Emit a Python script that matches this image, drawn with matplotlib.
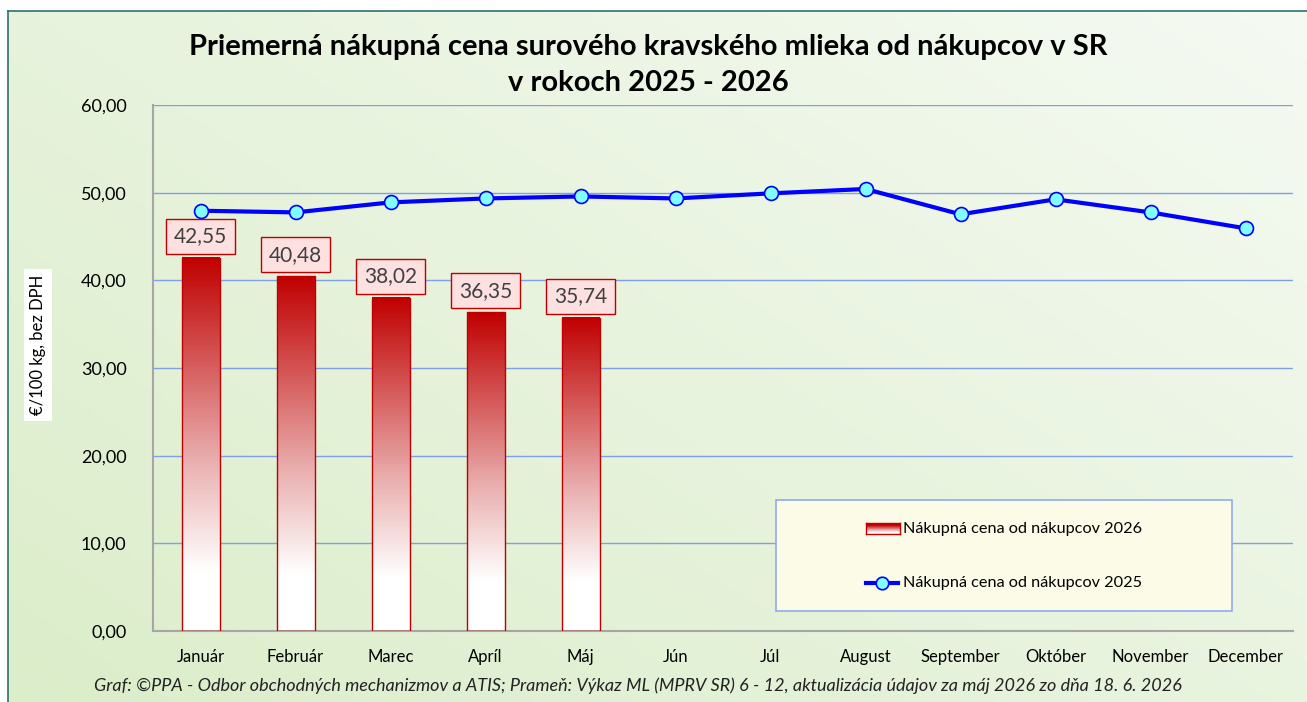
import numpy as np
import matplotlib
matplotlib.use("Agg")
import matplotlib.pyplot as plt
from matplotlib.patches import Rectangle
from matplotlib.lines import Line2D
from matplotlib.colors import LinearSegmentedColormap

months = ["Január", "Február", "Marec", "Apríl", "Máj", "Jún", "Júl", "August",
          "September", "Október", "November", "December"]
price_2026 = [42.55, 40.48, 38.02, 36.35, 35.74]
price_2025 = [47.94, 47.75, 48.89, 49.34, 49.57, 49.34, 49.92, 50.42, 47.53, 49.24, 47.75, 45.93]
yticks = [0, 10, 20, 30, 40, 50, 60]

title = "Priemerná nákupná cena surového kravského mlieka od nákupcov v SR\nv rokoch 2025 - 2026"
ylabel = "€/100 kg, bez DPH"
legend_2026 = "Nákupná cena od nákupcov 2026"
legend_2025 = "Nákupná cena od nákupcov 2025"
footer = ("Graf: ©PPA - Odbor obchodných mechanizmov a ATIS; Prameň: Výkaz ML (MPRV SR) 6 - 12, "
          "aktualizácia údajov za máj 2026 zo dňa 18. 6. 2026")

plt.rcParams['font.family'] = ['Lato', 'DejaVu Sans']

W, H = 1307, 702
fig = plt.figure(figsize=(W / 100, H / 100), dpi=100)
fig.patch.set_facecolor("white")

# chart area background gradient
bg = fig.add_axes([8 / W, 0, 1 - 8 / W, 1 - 11 / H], zorder=-10)
gx, gy = np.meshgrid(np.linspace(0, 1, 200), np.linspace(0, 1, 200))
t = np.clip(0.55 * gx + 0.45 * (1 - gy), 0, 1)
c0 = np.array([0.86, 0.93, 0.79])
c1 = np.array([0.96, 0.98, 0.95])
img = c0[None, None, :] * (1 - t[..., None]) + c1[None, None, :] * t[..., None]
bg.imshow(img, extent=(0, 1, 0, 1), aspect="auto", origin="upper")
bg.set_xlim(0, 1); bg.set_ylim(0, 1)
bg.set_xticks([]); bg.set_yticks([])
for s in ["right", "bottom"]:
    bg.spines[s].set_visible(False)
for s in ["left", "top"]:
    bg.spines[s].set_color("#2f6f6f")
    bg.spines[s].set_linewidth(1.2)

# main axes
x0, x1, ytop, ybot = 153, 1293, 105, 631
ax = fig.add_axes([x0 / W, 1 - ybot / H, (x1 - x0) / W, (ybot - ytop) / H])
ax.patch.set_alpha(0)
x = np.arange(len(months))
ax.set_xlim(-0.5, len(months) - 0.5)
ax.set_ylim(0, 60)
ax.set_yticks(yticks)
ax.set_yticklabels([f"{v:.2f}".replace(".", ",") for v in yticks], fontsize=13)
ax.set_xticks(x)
ax.set_xticklabels(months, fontsize=12)
ax.tick_params(length=0)
ax.tick_params(axis="y", pad=19)
ax.tick_params(axis="x", pad=13)
ax.grid(axis="y", color="#7f9fe8", linewidth=1.0)
ax.set_axisbelow(True)
for s in ["top", "right"]:
    ax.spines[s].set_visible(False)
for s in ["left", "bottom"]:
    ax.spines[s].set_color("#a6a6a6")
    ax.spines[s].set_linewidth(1.5)

# gradient bars
cmap = LinearSegmentedColormap.from_list(
    "rw", [(0, "white"), (0.16, "white"), (0.45, "#eab0b0"), (1.0, "#c00000")])
grad = np.linspace(1, 0, 256).reshape(-1, 1)
bw = 0.4
for i, v in enumerate(price_2026):
    ax.imshow(grad, extent=(i - bw / 2, i + bw / 2, 0, v), aspect="auto",
              cmap=cmap, vmin=0, vmax=1, zorder=2)
    ax.add_patch(Rectangle((i - bw / 2, 0), bw, v, fill=False, edgecolor="#c00000",
                           linewidth=1.0, zorder=3))
    ax.text(i, v + 2.45, f"{v:.2f}".replace(".", ","), ha="center", va="center",
            fontsize=15, color="#404040", zorder=6,
            bbox=dict(boxstyle="square,pad=0.36", facecolor="#fde0e0",
                      edgecolor="#c00000", linewidth=1.0))
ax.set_xlim(-0.5, len(months) - 0.5)
ax.set_ylim(0, 60)

# 2025 line
ax.plot(x, price_2025, color="#0000ff", linewidth=3, marker="o", markersize=10,
        markerfacecolor="#80ffff", markeredgecolor="#0000ff", markeredgewidth=1.2,
        zorder=5)

# title
fig.text(648 / W, 1 - 65 / H, title, ha="center", va="center", fontsize=21,
         fontweight="bold", color="black", linespacing=1.45)

# y label with white background
fig.text(38 / W, 1 - 345 / H, ylabel, rotation=90, ha="center", va="center",
         fontsize=12, color="black",
         bbox=dict(boxstyle="square,pad=0.35", facecolor="white", edgecolor="none"))

# footer
fig.text(638 / W, 1 - 686 / H, footer, ha="center", va="center", fontsize=13,
         style="italic", color="#222222")

# manual legend
lx0, ly0, lx1, ly1 = 776, 500, 1232, 611
fig.patches.append(Rectangle((lx0 / W, 1 - ly1 / H), (lx1 - lx0) / W, (ly1 - ly0) / H,
                             transform=fig.transFigure, facecolor="#fbfbe8",
                             edgecolor="#8faaf0", linewidth=1.2, zorder=3))
lax = fig.add_axes([866 / W, 1 - 534 / H, (900 - 866) / W, (534 - 523) / H], zorder=5)
lax.imshow(grad, extent=(0, 1, 0, 1), aspect="auto", cmap=cmap, vmin=0, vmax=0.8)
lax.set_xticks([]); lax.set_yticks([])
for s in lax.spines.values():
    s.set_color("#c00000"); s.set_linewidth(1.0)
fig.text(903 / W, 1 - 529 / H, legend_2026, ha="left", va="center", fontsize=11.7, zorder=6)
fig.lines.append(Line2D([866 / W, 898 / W], [1 - 583 / H, 1 - 583 / H],
                        transform=fig.transFigure, color="#0000ff", linewidth=3,
                        zorder=6))
fig.lines.append(Line2D([882 / W], [1 - 583 / H], transform=fig.transFigure,
                        marker="o", markersize=9, markerfacecolor="#80ffff",
                        markeredgecolor="#0000ff", markeredgewidth=1.2, zorder=7))
fig.lines.append(Line2D([0], [0]))
fig.lines.pop()
fig.text(903 / W, 1 - 583 / H, legend_2025, ha="left", va="center", fontsize=11.7, zorder=6)

fig.savefig("out.png", dpi=100)
